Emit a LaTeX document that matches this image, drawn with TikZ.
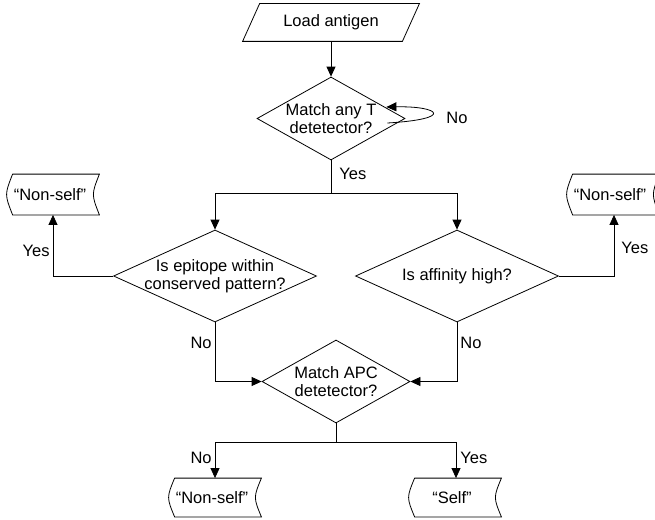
\documentclass[tikz,border=0pt]{standalone}
\usepackage{fontspec}
\setmainfont{Liberation Sans}
\usetikzlibrary{shapes.geometric,arrows.meta,calc}

% outline of a "stored data" box: concave right side, convex left side
\newcommand\storeline[1]{%
  \draw ($(#1.north west)+(6,0)$) -- ($(#1.north east)+(6,0)$)
    .. controls ($(#1.east)+(-2,0)$) .. ($(#1.south east)+(6,0)$)
    -- ($(#1.south west)+(6,0)$)
    .. controls ($(#1.west)+(-2,0)$) .. ($(#1.north west)+(6,0)$);}

\begin{document}
\begin{tikzpicture}[x=1pt,y=-1pt,
  font=\fontsize{16.5}{18}\selectfont,
  line width=0.8pt, line join=miter,
  arr/.style={-{Triangle[length=10pt,width=9pt]}},
  decision/.style={diamond,draw,inner sep=0pt,minimum width=#1},
  txt/.style={align=center,inner sep=0pt},
  store/.style={inner sep=0pt,minimum width=86pt,minimum height=40pt},
  iobox/.style={inner sep=0pt,minimum width=159pt,minimum height=37pt},
  lab/.style={inner sep=0pt}
]
\useasboundingbox (0,0) rectangle (655,519);
\clip (0,0) rectangle (655,519);

% input
\node[iobox] (load) at (331,22.5) {Load antigen};
\draw ($(load.north west)+(8.5,0)$) -- ($(load.north east)+(8.5,0)$)
  -- ($(load.south east)+(-8.5,0)$) -- ($(load.south west)+(-8.5,0)$) -- cycle;

% decisions
\node[decision=148pt,minimum height=83pt] (d1) at (331,118.5) {};
\node[txt] (t1) at (d1) {Match any T\\detetector?};
\node[decision=203pt,minimum height=92pt] (d2) at (215,276) {};
\node[txt] (t2) at (d2) {Is epitope within\\conserved pattern?};
\node[decision=203pt,minimum height=92pt] (d3) at (457,276) {};
\node[txt] (t3) at (d3) {Is affinity high?};
\node[decision=148pt,minimum height=83pt] (d4) at (336,381.5) {};
\node[txt] (t4) at (d4) {Match APC\\detetector?};

% outcomes
\node[store] (nsL) at (50,194.5) {“Non-self”};
\storeline{nsL}
\node[store] (nsR) at (610,194.5) {“Non-self”};
\storeline{nsR}
\node[store,minimum height=38pt] (nsB) at (212,497.5) {“Non-self”};
\storeline{nsB}
\node[store,minimum height=38pt] (self) at (452,497.5) {“Self”};
\storeline{self}

% junctions
\coordinate (j1) at (331,193);
\coordinate (j2) at (336,442);

% connectors
\draw[arr] (load.south) -- (d1.north);
\draw[arr] ($(d1.east)+(-18,4.5)$) .. controls (455,119) and (440,106) .. ($(d1.east)+(-19,-11.5)$);
\draw (d1.south) -- (j1);
\draw[arr] (j1) -| (d2.north);
\draw[arr] (j1) -| (d3.north);
\draw[arr] (d2.west) -| ($(nsL.south)+(3,0)$);
\draw[arr] (d3.east) -| ($(nsR.south)+(4,0)$);
\draw[arr] (d2.south) |- (d4.west);
\draw[arr] (d3.south) |- (d4.east);
\draw (d4.south) -- (j2);
\draw[arr] (j2) -| ($(nsB.north)+(3,0)$);
\draw[arr] (j2) -| ($(self.north)+(4,0)$);

% branch labels
\node[lab,anchor=west] (l1) at (446,117.5) {No};
\node[lab,anchor=west] (l2) at (339,174) {Yes};
\node[lab,anchor=east] (l3) at (50,251) {Yes};
\node[lab,anchor=west] (l4) at (621,248) {Yes};
\node[lab,anchor=east] (l5) at (212,343) {No};
\node[lab,anchor=west] (l6) at (460,343) {No};
\node[lab,anchor=east] (l7) at (212,458) {No};
\node[lab,anchor=west] (l8) at (460,458) {Yes};
\end{tikzpicture}
\end{document}
